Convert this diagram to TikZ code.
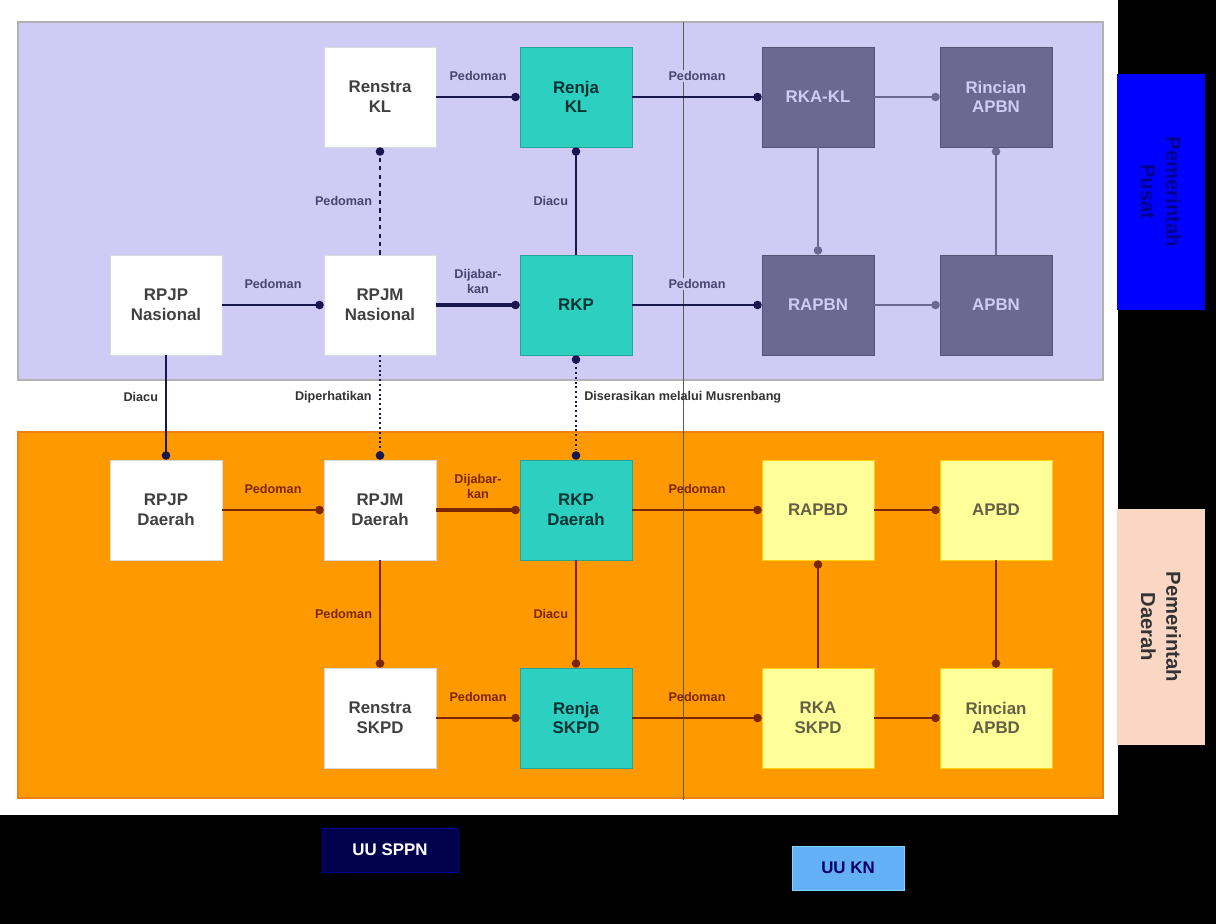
\documentclass[tikz,border=0pt]{standalone}
\usepackage{fontspec}
\setmainfont{Liberation Sans}
\usetikzlibrary{arrows.meta}

\definecolor{lavbg}{RGB}{207,203,244}
\definecolor{orangebg}{RGB}{255,153,0}
\definecolor{tealbox}{RGB}{44,207,192}
\definecolor{purplebox}{RGB}{108,104,146}
\definecolor{yellowbox}{RGB}{255,255,153}
\definecolor{navyline}{RGB}{26,22,78}
\definecolor{brownline}{RGB}{122,38,0}
\definecolor{pinkbox}{RGB}{250,214,196}
\definecolor{skyblue}{RGB}{100,176,246}

\begin{document}
\begin{tikzpicture}[x=0.025cm,y=-0.025cm,
    box/.style={minimum width=2.8cm,minimum height=2.5cm,align=center,font=\bfseries\large,inner sep=2pt},
    whitebox/.style={box,fill=white,draw=gray!30,text=black!75},
    tealbox/.style={box,fill=tealbox,draw=tealbox!80!black,text=teal!40!black},
    purplebox/.style={box,fill=purplebox,draw=purplebox!80!black,text=lavbg},
    yellowbox/.style={box,fill=yellowbox,draw=yellow!70!orange,text=black!70!yellow},
    topline/.style={draw=navyline,line width=1.4pt,-{Circle[length=6pt]}},
    botline/.style={draw=brownline,line width=1.4pt,-{Circle[length=6pt]}},
    toplbl/.style={font=\small\bfseries,text=navyline!80,fill=lavbg,inner sep=1pt,align=center},
    botlbl/.style={font=\small\bfseries,text=brownline,inner sep=1pt,align=center},
    midlbl/.style={font=\small\bfseries,text=gray!40!black,inner sep=1pt}]

    % background and frames
    \fill[black] (0,0) rectangle (1216,924);
    \fill[white] (0,0) rectangle (1118,815);
    \draw[fill=lavbg,draw=gray!60,line width=1pt] (18,22) rectangle (1103,380);
    \draw[fill=orangebg,draw=orange!70!brown,line width=1pt] (18,432) rectangle (1103,798);
    \draw[gray!70!black] (683,22) -- (683,800);

    % pemerintah pusat
    \node[whitebox] (renstrakl) at (380,97) {Renstra\\KL};
    \node[tealbox] (renjakl) at (576,97) {Renja\\KL};
    \node[purplebox] (rkakl) at (818,97) {RKA-KL};
    \node[purplebox] (rincianapbn) at (996,97) {Rincian\\APBN};
    \node[whitebox] (rpjpnas) at (166,305) {RPJP\\Nasional};
    \node[whitebox] (rpjmnas) at (380,305) {RPJM\\Nasional};
    \node[tealbox] (rkp) at (576,305) {RKP};
    \node[purplebox] (rapbn) at (818,305) {RAPBN};
    \node[purplebox] (apbn) at (996,305) {APBN};

    % pemerintah daerah
    \node[whitebox] (rpjpdaerah) at (166,510) {RPJP\\Daerah};
    \node[whitebox] (rpjmdaerah) at (380,510) {RPJM\\Daerah};
    \node[tealbox] (rkpdaerah) at (576,510) {RKP\\Daerah};
    \node[yellowbox] (rapbd) at (818,510) {RAPBD};
    \node[yellowbox] (apbd) at (996,510) {APBD};
    \node[whitebox] (renstraskpd) at (380,718) {Renstra\\SKPD};
    \node[tealbox] (renjaskpd) at (576,718) {Renja\\SKPD};
    \node[yellowbox] (rkaskpd) at (818,718) {RKA\\SKPD};
    \node[yellowbox] (rincianapbd) at (996,718) {Rincian\\APBD};

    % side and bottom tags
    \node[fill=blue,minimum width=2.18cm,minimum height=5.9cm] (pusat) at (1161,192) {};
    \node[text=blue!55!black,font=\bfseries\Large,align=center,rotate=-90] (pusattxt) at (1161,192) {Pemerintah\\Pusat};
    \node[fill=pinkbox,minimum width=2.18cm,minimum height=5.9cm] (daerah) at (1161,627) {};
    \node[text=black!80,font=\bfseries\Large,align=center,rotate=-90] (daerahtxt) at (1161,627) {Pemerintah\\Daerah};
    \node[fill=blue!30!black,draw=blue!60!black,text=white,font=\bfseries\large,minimum width=3.4cm,minimum height=1.1cm] (uusppn) at (390,850) {UU SPPN};
    \node[fill=skyblue,draw=cyan!50,text=blue!40!black,font=\bfseries\large,minimum width=2.8cm,minimum height=1.1cm] (uukn) at (848,868) {UU KN};

    % connectors pusat
    \draw[topline] (renstrakl) -- node[toplbl,above=10pt] {Pedoman} (renjakl);
    \draw[topline] (renjakl) -- node[toplbl,above=10pt] {Pedoman} (rkakl);
    \draw[topline,draw=purplebox,line width=1pt] (rkakl) -- (rincianapbn);
    \draw[topline] (rpjpnas) -- node[toplbl,above=10pt] {Pedoman} (rpjmnas);
    \draw[topline,line width=2.2pt] (rpjmnas) -- node[toplbl,above=6pt] {Dijabar-\\kan} (rkp);
    \draw[topline] (rkp) -- node[toplbl,above=10pt] {Pedoman} (rapbn);
    \draw[topline,draw=purplebox,line width=1pt] (rapbn) -- (apbn);
    \draw[topline,dashed] (rpjmnas) -- node[toplbl,left=4pt] {Pedoman} (renstrakl);
    \draw[topline] (rkp) -- node[toplbl,left=4pt] {Diacu} (renjakl);
    \draw[topline,draw=purplebox,line width=1pt] (rkakl) -- (rapbn);
    \draw[topline,draw=purplebox,line width=1pt] (apbn) -- (rincianapbn);

    % connectors pusat - daerah
    \draw[topline] (rpjpnas) -- node[midlbl,left=4pt,pos=0.4] {Diacu} (rpjpdaerah);
    \draw[topline,dotted,line width=1.8pt] (rpjmnas) -- node[midlbl,left=4pt,pos=0.4] {Diperhatikan} (rpjmdaerah);
    \draw[topline,dotted,line width=1.8pt,{Circle[length=6pt]}-{Circle[length=6pt]}] (rkp) -- node[midlbl,right=4pt,pos=0.4] {Diserasikan melalui Musrenbang} (rkpdaerah);

    % connectors daerah
    \draw[botline] (rpjpdaerah) -- node[botlbl,above=10pt] {Pedoman} (rpjmdaerah);
    \draw[botline,line width=2.2pt] (rpjmdaerah) -- node[botlbl,above=6pt] {Dijabar-\\kan} (rkpdaerah);
    \draw[botline] (rkpdaerah) -- node[botlbl,above=10pt] {Pedoman} (rapbd);
    \draw[botline,line width=1pt] (rapbd) -- (apbd);
    \draw[botline] (rpjmdaerah) -- node[botlbl,left=4pt] {Pedoman} (renstraskpd);
    \draw[botline] (rkpdaerah) -- node[botlbl,left=4pt] {Diacu} (renjaskpd);
    \draw[botline] (renstraskpd) -- node[botlbl,above=10pt] {Pedoman} (renjaskpd);
    \draw[botline] (renjaskpd) -- node[botlbl,above=10pt] {Pedoman} (rkaskpd);
    \draw[botline,line width=1pt] (rkaskpd) -- (rapbd);
    \draw[botline,line width=1pt] (apbd) -- (rincianapbd);
    \draw[botline,line width=1pt] (rkaskpd) -- (rincianapbd);

\end{tikzpicture}
\end{document}
